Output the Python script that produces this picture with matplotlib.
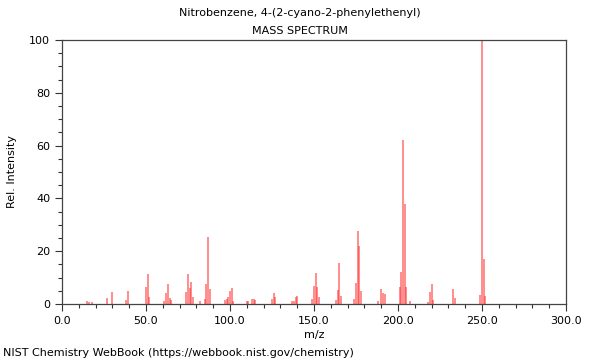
import numpy as np
import matplotlib.pyplot as plt
from matplotlib.ticker import MultipleLocator

# m/z peaks and relative intensities
mz = [15, 16, 18, 27, 30, 38, 39, 50, 51, 52,
      61, 62, 63, 64, 65, 74, 75, 76, 77, 78,
      82, 85, 86, 87, 88, 97, 98, 99, 100, 101, 102,
      110, 111, 113, 114, 115, 125, 126, 127, 137, 138, 139, 140,
      149, 150, 151, 152, 153, 163, 164, 165, 166,
      174, 175, 176, 177, 178, 188, 190, 191, 192,
      201, 202, 203, 204, 205, 207, 218, 219, 220, 221,
      233, 234, 249, 250, 251, 252]
intensity = [1.0, 0.8, 0.7, 2.1, 4.7, 1.5, 5.0, 6.3, 11.4, 2.8,
             1.0, 4.0, 7.6, 2.1, 1.5, 4.5, 11.4, 6.0, 8.5, 2.5,
             1.0, 2.0, 7.6, 25.5, 5.6, 1.5, 2.0, 2.5, 5.0, 6.0, 1.0,
             1.0, 1.0, 1.8, 1.8, 1.5, 1.8, 4.0, 2.5, 1.0, 1.0, 2.8, 3.0,
             2.0, 6.8, 11.6, 6.3, 2.5, 1.5, 5.4, 15.4, 3.2,
             2.0, 7.8, 27.5, 22.0, 5.0, 1.0, 5.6, 4.2, 3.8,
             6.6, 12.0, 62.0, 38.0, 6.5, 1.0, 0.8, 4.7, 7.6, 1.5,
             5.6, 2.3, 3.5, 100.0, 17.0, 3.0]

fig = plt.figure(figsize=(6, 3.6), dpi=100)
ax = fig.add_axes([0.1033, 0.1556, 0.84, 0.7333])

ax.vlines(mz, 0, intensity, color='#ff3333', linewidth=1.1, alpha=0.7)

ax.set_xlim(0, 300)
ax.set_ylim(0, 100)
ax.xaxis.set_major_locator(MultipleLocator(50))
ax.xaxis.set_minor_locator(MultipleLocator(10))
ax.yaxis.set_major_locator(MultipleLocator(20))
ax.yaxis.set_minor_locator(MultipleLocator(5))
ax.xaxis.set_major_formatter(plt.FuncFormatter(lambda v, p: '%.1f' % v))
ax.tick_params(which='major', direction='out', length=5, width=0.8, labelsize=8, colors='#333333', labelcolor='black')
ax.tick_params(which='minor', direction='out', length=3, width=0.8, colors='#333333')
for s in ax.spines.values():
    s.set_color('#444444')
    s.set_linewidth(0.9)

ax.set_xlabel('m/z', fontsize=8, labelpad=3)
ax.set_ylabel('Rel. Intensity', fontsize=8, labelpad=9)

fig.text(0.5, 0.963, 'Nitrobenzene, 4-(2-cyano-2-phenylethenyl)', ha='center', va='center', fontsize=8)
fig.text(0.5, 0.915, 'MASS SPECTRUM', ha='center', va='center', fontsize=8)
fig.text(0.005, 0.02, 'NIST Chemistry WebBook (https://webbook.nist.gov/chemistry)', ha='left', va='center', fontsize=8)

fig.savefig('out.png', dpi=100)
